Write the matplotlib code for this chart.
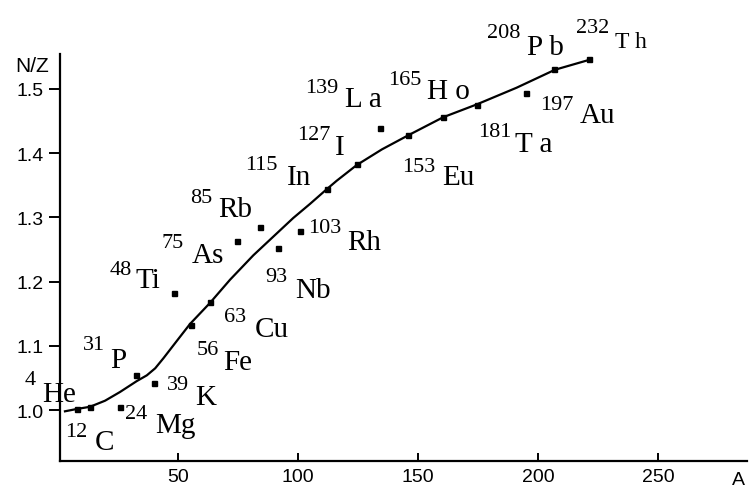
import numpy as np
import matplotlib.pyplot as plt

# nuclides: symbol, mass number shown in label, position of the dot (A, N/Z)
symbols = ['He', 'C', 'Mg', 'P', 'K', 'Ti', 'Fe', 'Cu', 'As', 'Rb', 'Nb',
           'Rh', 'In', 'I', 'La', 'Eu', 'Ho', 'Ta', 'Au', 'Pb', 'Th']
mass = ['4', '12', '24', '31', '39', '48', '56', '63', '75', '85', '93',
        '103', '115', '127', '139', '153', '165', '181', '197', '208', '232']
point_a = [7.8, 13.3, 25.8, 32.5, 40.0, 48.3, 55.3, 63.3, 74.5, 84.2, 91.8,
           100.8, 112.0, 124.5, 134.2, 146.0, 160.3, 174.5, 195.0, 206.8, 221.3]
point_nz = [1.001, 1.005, 1.004, 1.055, 1.042, 1.182, 1.133, 1.168, 1.264, 1.285, 1.253,
            1.279, 1.344, 1.383, 1.439, 1.428, 1.457, 1.475, 1.493, 1.531, 1.546]

# hand drawn stability curve
curve_a = [2.9, 7.8, 13.3, 19.6, 25.8, 32.8, 37.0, 40.5, 44.0, 50.0, 55.0, 63.3, 71.7,
           81.4, 89.7, 98.0, 105.0, 112.0, 116.1, 124.5, 135.0, 146.0, 160.5,
           174.5, 191.1, 207.1, 221.0]
curve_nz = [0.998, 1.0016, 1.005, 1.0145, 1.028, 1.045, 1.054, 1.065, 1.081, 1.110, 1.134,
            1.1667, 1.203, 1.241, 1.270, 1.299, 1.321, 1.344, 1.357, 1.3816,
            1.406, 1.428, 1.456, 1.476, 1.502, 1.530, 1.545]

x_ticks = [50, 100, 150, 200, 250]
y_ticks = [1.0, 1.1, 1.2, 1.3, 1.4, 1.5]

# label placement (data coords): mass number, then symbol
num_pos = [(-13.8, 1.0405), (2.9, 0.9595), (27.9, 0.9875), (10.4, 1.095), (45.4, 1.0327),
           (21.7, 1.2118), (57.9, 1.0872), (69.2, 1.1386), (43.3, 1.2539), (55.0, 1.324),
           (86.3, 1.2009), (104.2, 1.2773), (77.9, 1.3754), (99.6, 1.422), (102.9, 1.4953),
           (143.3, 1.3723), (137.5, 1.5078), (175.0, 1.4268), (200.8, 1.4688),
           (178.8, 1.581), (215.8, 1.5888)]
sym_pos = [(-6.7, 1.014), (15.4, 0.9393), (40.4, 0.9657), (21.7, 1.067), (57.1, 1.0093),
           (32.1, 1.1916), (68.8, 1.0639), (82.1, 1.1153), (55.8, 1.2305), (66.7, 1.3022),
           (98.8, 1.176), (120.4, 1.2508), (95.4, 1.352), (115.4, 1.3988), (119.6, 1.4735),
           (160.0, 1.352), (153.8, 1.486), (190.4, 1.4034), (217.5, 1.4486),
           (195.4, 1.5545), (232.1, 1.5654)]
spaced = {'La', 'Ho', 'Ta', 'Pb', 'Th'}

fig = plt.figure(figsize=(7.5, 4.89), dpi=100)
ax = fig.add_axes([60 / 750, 27 / 489, 687 / 750, 407 / 489])

ax.plot(curve_a, curve_nz, color='black', lw=1.6, solid_joinstyle='round')
ax.plot(point_a, point_nz, 's', color='black', ms=3.6)

serif = 'Liberation Serif'
for i in range(len(symbols)):
    s = symbols[i]
    if s in spaced:
        s = s[0] + ' ' + s[1:]
    size = 17 if symbols[i] == 'Th' else 21
    ax.text(num_pos[i][0], num_pos[i][1], mass[i], family=serif, fontsize=16,
            ha='left', va='baseline', clip_on=False)
    ax.text(sym_pos[i][0], sym_pos[i][1], s, family=serif, fontsize=size,
            ha='left', va='baseline', clip_on=False)

ax.set_xlim(0.83, 287.1)
ax.set_ylim(0.9206, 1.5545)
ax.set_xticks(x_ticks)
ax.set_yticks(y_ticks)
ax.set_yticklabels(['%.1f' % v for v in y_ticks])
for lab in ax.get_xticklabels() + ax.get_yticklabels():
    lab.set_family('Liberation Sans')
    lab.set_fontsize(14)
ax.tick_params(axis='x', direction='in', length=6, width=1.4, pad=5)
ax.tick_params(axis='y', direction='out', length=8, width=1.4, pad=4)

for side in ['top', 'right']:
    ax.spines[side].set_visible(False)
for side in ['left', 'bottom']:
    ax.spines[side].set_linewidth(1.6)

fig.text(15 / 750, 1 - 72 / 489, 'N/Z', family='Liberation Sans', fontsize=15,
         ha='left', va='baseline')
fig.text(732 / 750, 1 - 485 / 489, 'A', family='Liberation Sans', fontsize=14,
         ha='left', va='baseline')

fig.savefig('out.png', dpi=100)
